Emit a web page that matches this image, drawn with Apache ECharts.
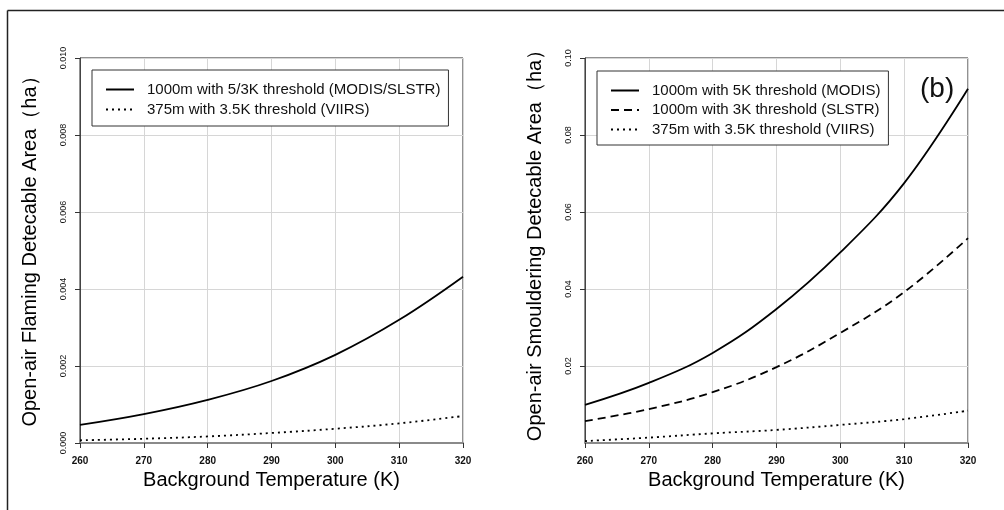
<!DOCTYPE html>
<html lang="en">

<head>
    <meta charset="UTF-8">
    <title>Detectable area vs background temperature</title>
    <script src="https://cdn.jsdelivr.net/npm/echarts@6/dist/echarts.min.js"></script>
    <style>
        body { margin: 0; background: #fff; }
    </style>
</head>

<body>
    <div id="main" style="width: 1004px;height:510px;"></div>

    <script>
        // background temperature (K)
        const temps = [260, 270, 280, 290, 300, 310, 320];

        // (a) flaming
        const flamingModisSlstr = [0.00047, 0.00075, 0.00112, 0.00161, 0.00229, 0.0032, 0.00432];
        const flamingViirs = [0.00007, 0.00011, 0.00017, 0.00026, 0.00037, 0.00051, 0.0007];

        // (b) smouldering
        const smoulderModis = [0.0099, 0.0156, 0.0234, 0.0348, 0.0495, 0.0675, 0.092];
        const smoulderSlstr = [0.0057, 0.0088, 0.0132, 0.0197, 0.0286, 0.0392, 0.0532];
        const smoulderViirs = [0.0005, 0.0014, 0.0025, 0.0034, 0.0047, 0.0062, 0.0084];

        const xTitle = 'Background Temperature (K)';
        const yTitleA = 'Open-air Flaming Detecable Area（ha）';
        const yTitleB = 'Open-air Smouldering Detecable Area（ha）';

        const nameA1 = '1000m with 5/3K threshold (MODIS/SLSTR)';
        const nameV = '375m with 3.5K threshold (VIIRS)';
        const nameB1 = '1000m with 5K threshold (MODIS)';
        const nameB2 = '1000m with 3K threshold (SLSTR)';

        const font = 'Liberation Sans, Arial, sans-serif';

        function pairs(xs, ys) {
            return xs.map((x, i) => [x, ys[i]]);
        }

        function xAxisFor(idx) {
            return {
                type: 'value', gridIndex: idx, min: 260, max: 320, interval: 10,
                name: xTitle, nameLocation: 'middle', nameGap: 25,
                nameTextStyle: { fontFamily: font, fontSize: 20, color: '#000' },
                axisLine: { lineStyle: { color: '#8a8a8a', width: 2 } },
                axisTick: { show: true, length: 5, lineStyle: { color: '#333' } },
                axisLabel: { fontFamily: font, fontSize: 10, fontWeight: 'bold', color: '#111', margin: 13 },
                splitLine: { show: true, lineStyle: { color: '#d6d6d6' } }
            };
        }

        // shift moves the rotated title up along the axis
        function yAxisFor(idx, max, step, digits, title, showMin, shift) {
            return {
                type: 'value', gridIndex: idx, min: 0, max: max, interval: step,
                name: title, nameLocation: 'middle', nameGap: 40,
                nameTextStyle: { fontFamily: font, fontSize: 20, color: '#000', padding: [0, 0, 0, shift] },
                axisLine: { show: true, lineStyle: { color: '#444', width: 1 } },
                axisTick: { show: true, length: 5, lineStyle: { color: '#333' } },
                axisLabel: {
                    fontFamily: font, fontSize: 9, color: '#111', rotate: 90, margin: 12,
                    showMinLabel: showMin,
                    formatter: v => v.toFixed(digits)
                },
                splitLine: { show: true, lineStyle: { color: '#d6d6d6' } }
            };
        }

        function line(name, idx, ys, type) {
            return {
                name: name, type: 'line', xAxisIndex: idx, yAxisIndex: idx,
                data: pairs(temps, ys), smooth: 0.4, symbol: 'none',
                color: '#000',
                lineStyle: { color: '#000', width: 1.8, type: type }
            };
        }

        const legendBase = {
            orient: 'vertical', itemWidth: 28, itemHeight: 14, itemGap: 5,
            borderColor: '#333', borderWidth: 1, backgroundColor: '#fff',
            itemStyle: { opacity: 0 },
            textStyle: { fontFamily: font, fontSize: 15, color: '#111', padding: [0, 0, 0, 8] },
            selectedMode: false
        };

        const myChart = echarts.init(document.getElementById('main'));

        const option = {
            animation: false,
            title: {
                text: '(b)', left: 915, top: 70,
                textStyle: { fontFamily: font, fontSize: 28, fontWeight: 'normal', color: '#111' }
            },
            grid: [
                { left: 80, top: 58, width: 383, height: 385, show: true, borderColor: '#222', borderWidth: 1 },
                { left: 585, top: 58, width: 383, height: 385, show: true, borderColor: '#222', borderWidth: 1 }
            ],
            xAxis: [xAxisFor(0), xAxisFor(1)],
            yAxis: [
                yAxisFor(0, 0.010, 0.002, 3, yTitleA, true, 8),
                yAxisFor(1, 0.10, 0.02, 2, yTitleB, false, 20)
            ],
            legend: [
                Object.assign({}, legendBase, {
                    left: 92, top: 70, padding: [12, 8, 9, 13],
                    data: [nameA1, nameV]
                }),
                Object.assign({}, legendBase, {
                    left: 597, top: 71, padding: [12, 8, 8, 13], itemGap: 4.5,
                    data: [nameB1, nameB2, nameV]
                })
            ],
            series: [
                line(nameA1, 0, flamingModisSlstr, 'solid'),
                line(nameV, 0, flamingViirs, [2, 4]),
                line(nameB1, 1, smoulderModis, 'solid'),
                line(nameB2, 1, smoulderSlstr, [8, 5]),
                line(nameV, 1, smoulderViirs, [2, 4])
            ],
            graphic: [
                { type: 'line', shape: { x1: 7.5, y1: 10.5, x2: 1004, y2: 10.5 }, style: { stroke: '#222', lineWidth: 1.5 } },
                { type: 'line', shape: { x1: 7.5, y1: 10.5, x2: 7.5, y2: 510 }, style: { stroke: '#222', lineWidth: 1.5 } }
            ]
        };

        myChart.setOption(option);
    </script>
</body>

</html>
